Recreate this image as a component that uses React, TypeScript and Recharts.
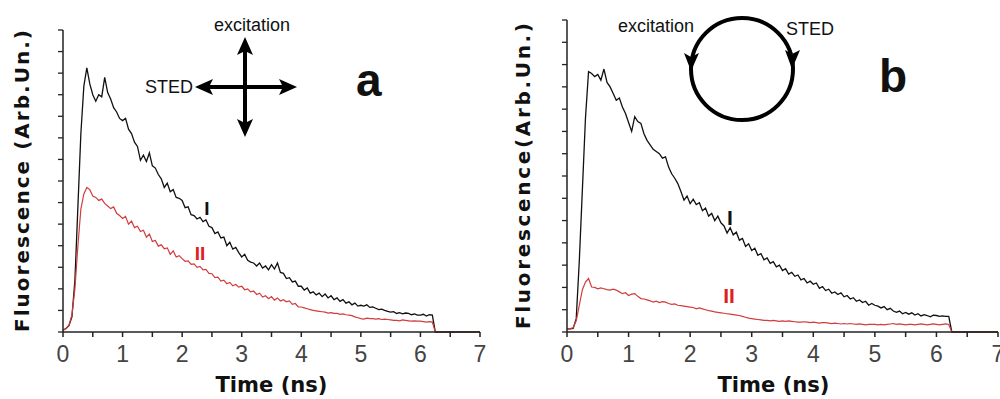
import React from 'react'
import { LineChart, Line, XAxis, YAxis } from 'recharts'

// sampling times (ns)
const TIME = [
  0, 0.05, 0.1, 0.15, 0.2, 0.25, 0.3, 0.35, 0.4, 0.45,
  0.5, 0.55, 0.6, 0.65, 0.7, 0.75, 0.8, 0.85, 0.9, 0.95,
  1.0, 1.05, 1.1, 1.15, 1.2, 1.25, 1.3, 1.35, 1.4, 1.45,
  1.5, 1.55, 1.6, 1.65, 1.7, 1.75, 1.8, 1.85, 1.9, 1.95,
  2.0, 2.05, 2.1, 2.15, 2.2, 2.25, 2.3, 2.35, 2.4, 2.45,
  2.5, 2.55, 2.6, 2.65, 2.7, 2.75, 2.8, 2.85, 2.9, 2.95,
  3.0, 3.05, 3.1, 3.15, 3.2, 3.25, 3.3, 3.35, 3.4, 3.45,
  3.5, 3.55, 3.6, 3.65, 3.7, 3.75, 3.8, 3.85, 3.9, 3.95,
  4.0, 4.05, 4.1, 4.15, 4.2, 4.25, 4.3, 4.35, 4.4, 4.45,
  4.5, 4.55, 4.6, 4.65, 4.7, 4.75, 4.8, 4.85, 4.9, 4.95,
  5.0, 5.05, 5.1, 5.15, 5.2, 5.25, 5.3, 5.35, 5.4, 5.45,
  5.5, 5.55, 5.6, 5.65, 5.7, 5.75, 5.8, 5.85, 5.9, 5.95,
  6.0, 6.05, 6.1, 6.15, 6.2, 6.25, 7.0,
]

// panel a, curve I (black)
const A_I = [
  0.04, 0.08, 0.15, 0.35, 1.2, 2.9, 4.6, 5.7, 6.12, 5.75,
  5.5, 5.35, 5.5, 5.45, 5.9, 5.55, 5.4, 5.2, 5.1, 4.95,
  4.9, 4.95, 4.7, 4.6, 4.4, 4.3, 3.98, 4.1, 3.95, 4.15,
  3.85, 3.8, 3.65, 3.55, 3.35, 3.45, 3.25, 3.3, 3.12, 3.1,
  3.05, 2.88, 2.9, 2.72, 2.7, 2.62, 2.66, 2.56, 2.6, 2.45,
  2.42, 2.28, 2.32, 2.18, 2.2, 2.0, 2.08, 1.92, 1.96, 1.84,
  1.74, 1.8, 1.66, 1.62, 1.6, 1.53, 1.6, 1.48, 1.53, 1.44,
  1.56, 1.46, 1.6, 1.38, 1.36, 1.24, 1.26, 1.16, 1.18, 1.06,
  1.06, 0.97, 1.02, 0.9, 0.93, 0.86, 0.9, 0.82, 0.88, 0.79,
  0.84, 0.75, 0.79, 0.71, 0.75, 0.67, 0.7, 0.63, 0.67, 0.6,
  0.62, 0.6, 0.63, 0.57, 0.58, 0.55, 0.52, 0.53, 0.5, 0.48,
  0.46, 0.47, 0.43, 0.45, 0.42, 0.44, 0.43, 0.4, 0.42, 0.39,
  0.39, 0.41, 0.37, 0.4, 0.39, 0, 0,
]

// panel a, curve II (red)
const A_II = [
  0.04, 0.08, 0.15, 0.4, 1.0, 2.0, 2.85, 3.2, 3.35, 3.3,
  3.15, 3.12, 3.05, 3.08, 2.98, 2.92, 2.86, 2.9, 2.75, 2.7,
  2.63, 2.68, 2.5, 2.57, 2.42, 2.45, 2.33, 2.36, 2.2, 2.27,
  2.1, 2.12, 1.99, 2.02, 1.93, 1.95, 1.8, 1.88, 1.74, 1.77,
  1.7, 1.64, 1.65, 1.57, 1.58, 1.5, 1.52, 1.44, 1.45, 1.36,
  1.35, 1.26, 1.27, 1.18, 1.2, 1.12, 1.15, 1.07, 1.1, 1.04,
  1.06, 0.98, 1.0, 0.93, 0.95, 0.87, 0.9, 0.81, 0.84, 0.77,
  0.82, 0.74, 0.79, 0.72, 0.75, 0.7, 0.72, 0.64, 0.66, 0.58,
  0.58, 0.56, 0.54, 0.52, 0.5, 0.49, 0.48, 0.47, 0.46, 0.44,
  0.45, 0.43, 0.43, 0.41, 0.42, 0.4, 0.39, 0.38, 0.35, 0.33,
  0.31, 0.3, 0.32, 0.31, 0.31, 0.3, 0.31, 0.29, 0.3, 0.29,
  0.28, 0.27, 0.27, 0.26, 0.28, 0.27, 0.26, 0.25, 0.26, 0.25,
  0.25, 0.24, 0.23, 0.24, 0.23, 0, 0,
]

// panel b, curve I (black)
const B_I = [
  0.07, 0.07, 0.08, 0.3, 1.6, 3.2, 4.8, 5.84, 5.8, 5.73,
  5.78, 5.65, 5.9, 5.6, 5.5, 5.35, 5.2, 5.25, 5.05, 4.9,
  4.7, 4.5, 4.83, 4.72, 4.68, 4.45, 4.3, 4.2, 4.1, 4.05,
  4.0, 3.9, 3.93, 3.7, 3.55, 3.45, 3.33, 3.15, 2.96, 3.05,
  2.88, 2.98, 2.86, 2.9, 2.72, 2.78, 2.6, 2.66, 2.5, 2.6,
  2.45, 2.38, 2.22, 2.34, 2.18, 2.24, 2.06, 2.1, 1.92, 1.98,
  1.83, 1.88, 1.72, 1.76, 1.62, 1.66, 1.54, 1.58, 1.46, 1.5,
  1.38, 1.42, 1.3, 1.34, 1.25, 1.28, 1.17, 1.2, 1.1, 1.14,
  1.07, 1.1, 0.98, 1.02, 0.93, 0.96, 0.87, 0.9, 0.84, 0.88,
  0.79, 0.82, 0.74, 0.77, 0.69, 0.72, 0.66, 0.69, 0.6, 0.64,
  0.6, 0.58, 0.54, 0.57, 0.5, 0.53, 0.47, 0.44, 0.47, 0.41,
  0.44, 0.4, 0.43, 0.38, 0.41, 0.36, 0.39, 0.37, 0.34, 0.38,
  0.37, 0.35, 0.36, 0.35, 0.35, 0, 0,
]

// panel b, curve II (red)
const B_II = [
  0.07, 0.07, 0.1, 0.25, 0.6, 0.95, 1.12, 1.2, 1.01, 1.0,
  0.97, 0.99, 0.97, 0.95, 0.94, 0.96, 0.94, 0.9, 0.86, 0.88,
  0.82, 0.85, 0.86, 0.8, 0.75, 0.74, 0.72, 0.7, 0.67, 0.69,
  0.66, 0.68, 0.67, 0.64, 0.62, 0.63, 0.6, 0.59, 0.58, 0.57,
  0.56, 0.55, 0.52, 0.54, 0.52, 0.5, 0.48, 0.47, 0.45, 0.44,
  0.43, 0.42, 0.41, 0.4, 0.39, 0.38, 0.37, 0.35, 0.33, 0.31,
  0.3, 0.29, 0.28, 0.27, 0.26, 0.26, 0.25, 0.26, 0.25, 0.24,
  0.25, 0.24, 0.25, 0.24, 0.23, 0.22, 0.22, 0.23, 0.22, 0.21,
  0.22, 0.21, 0.2, 0.21, 0.21, 0.2, 0.19, 0.2, 0.19, 0.18,
  0.19, 0.18, 0.19, 0.18, 0.17, 0.18, 0.17, 0.16, 0.17, 0.17,
  0.17, 0.16, 0.17, 0.16, 0.17, 0.18, 0.19, 0.17, 0.18, 0.17,
  0.16, 0.17, 0.17, 0.16, 0.17, 0.18, 0.17, 0.16, 0.17, 0.18,
  0.17, 0.16, 0.17, 0.18, 0.17, 0, 0,
]

const X_TICKS = [0, 0.5, 1, 1.5, 2, 2.5, 3, 3.5, 4, 4.5, 5, 5.5, 6, 6.5, 7]
const Y_TICKS = [0, 0.5, 1, 1.5, 2, 2.5, 3, 3.5, 4, 4.5, 5, 5.5, 6, 6.5, 7]

const FONT = '"Liberation Sans", Arial, sans-serif'
const WIDE = '"DejaVu Sans", Verdana, sans-serif'
const BLACK = '#111111'
const RED = '#d23c3c'
const AXIS = '#222222'

const toRows = (i: number[], ii: number[]) =>
  TIME.map((t, k) => ({ t, i: i[k], ii: ii[k] }))

type PanelProps = {
  left: number
  top: number
  right: number
  yWidth: number
  rows: { t: number; i: number; ii: number }[]
  yTitle: string
  yTitleX: number
  yTitleLen: number
  xTitleDx: number
}

function Panel({ left, top, right, yWidth, rows, yTitle, yTitleX, yTitleLen, xTitleDx }: PanelProps) {
  return (
    <div style={{ position: 'absolute', left, top: 0 }}>
      <LineChart
        width={500}
        height={399}
        data={rows}
        margin={{ top, right, bottom: 0, left: 0 }}
      >
        <XAxis
          dataKey="t"
          type="number"
          domain={[0, 7]}
          ticks={X_TICKS}
          interval={0}
          allowDataOverflow
          height={67}
          tickSize={5}
          tickMargin={9}
          tickFormatter={(v: number) => (Number.isInteger(v) ? String(v) : '')}
          tick={{ fill: '#444', fontSize: 23, fontFamily: FONT }}
          axisLine={{ stroke: AXIS, strokeWidth: 1.5 }}
          tickLine={{ stroke: AXIS, strokeWidth: 1.5 }}
          label={(p: any) => {
            const vb = p.viewBox
            return (
              <text
                x={vb.x + vb.width / 2 + xTitleDx}
                y={392}
                textAnchor="middle"
                fontFamily={WIDE}
                fontWeight="bold"
                fontSize={21}
                textLength={112}
                lengthAdjust="spacingAndGlyphs"
                fill="#111"
              >
                Time (ns)
              </text>
            )
          }}
        />
        <YAxis
          type="number"
          domain={[0, 7]}
          ticks={Y_TICKS}
          interval={0}
          width={yWidth}
          tick={() => <g />}
          tickSize={5}
          axisLine={{ stroke: AXIS, strokeWidth: 1.5 }}
          tickLine={{ stroke: AXIS, strokeWidth: 1.3 }}
          label={(p: any) => {
            const vb = p.viewBox
            const cy = vb.y + vb.height / 2
            return (
              <text
                x={yTitleX}
                y={cy}
                transform={`rotate(-90 ${yTitleX} ${cy})`}
                textAnchor="middle"
                dominantBaseline="central"
                fontFamily={WIDE}
                fontWeight="bold"
                fontSize={20}
                textLength={yTitleLen}
                lengthAdjust="spacing"
                fill="#111"
              >
                {yTitle}
              </text>
            )
          }}
        />
        <Line
          type="linear"
          dataKey="i"
          stroke={BLACK}
          strokeWidth={1.3}
          dot={false}
          isAnimationActive={false}
        />
        <Line
          type="linear"
          dataKey="ii"
          stroke={RED}
          strokeWidth={1.2}
          dot={false}
          isAnimationActive={false}
        />
      </LineChart>
    </div>
  )
}

function Annotations() {
  const t = { fontFamily: FONT, fill: '#111' }
  return (
    <svg
      width={1000}
      height={399}
      style={{ position: 'absolute', left: 0, top: 0, pointerEvents: 'none' }}
    >
      {/* panel a: crossed polarisations */}
      <text x={252} y={31} textAnchor="middle" fontSize={18} {...t}>excitation</text>
      <text x={193} y={93} textAnchor="end" fontSize={18} {...t}>STED</text>
      <line x1={245} y1={50} x2={245} y2={124} stroke="#000" strokeWidth={4} />
      <line x1={208} y1={87} x2={284} y2={87} stroke="#000" strokeWidth={4} />
      <polygon points="245,37 237,55 245,51 253,55" fill="#000" />
      <polygon points="245,137 237,119 245,123 253,119" fill="#000" />
      <polygon points="195,87 213,79 209,87 213,95" fill="#000" />
      <polygon points="297,87 279,79 283,87 279,95" fill="#000" />
      <text x={356} y={96} fontSize={46} fontWeight="bold" {...t}>a</text>
      <text x={207} y={215} textAnchor="middle" fontSize={19} fontWeight="bold" {...t}>I</text>
      <text x={200} y={260} textAnchor="middle" fontSize={19} fontWeight="bold" fontFamily={FONT} fill="#e02020">II</text>

      {/* panel b: circular polarisation */}
      <text x={656} y={32} textAnchor="middle" fontSize={18} {...t}>excitation</text>
      <text x={810} y={35} textAnchor="middle" fontSize={18} {...t}>STED</text>
      <circle cx={742} cy={69} r={51} fill="none" stroke="#000" strokeWidth={4} />
      <polygon points="691,71 684,53 691,57 699,53" fill="#000" />
      <polygon points="792,69 785,50 792,54 800,50" fill="#000" />
      <text x={879} y={92} fontSize={46} fontWeight="bold" {...t}>b</text>
      <text x={730} y={225} textAnchor="middle" fontSize={21} fontWeight="bold" {...t}>I</text>
      <text x={729} y={303} textAnchor="middle" fontSize={21} fontWeight="bold" fontFamily={FONT} fill="#e02020">II</text>
    </svg>
  )
}

export default function App() {
  return (
    <div style={{ position: 'absolute', left: 0, top: 0, width: 1000, height: 399, background: '#fff', overflow: 'hidden' }}>
      <Panel
        left={0}
        top={30}
        right={20}
        yWidth={63}
        rows={toRows(A_I, A_II)}
        yTitle="Fluorescence (Arb.Un.)"
        yTitleX={22}
        yTitleLen={302}
        xTitleDx={0}
      />
      <Panel
        left={500}
        top={20}
        right={2}
        yWidth={67}
        rows={toRows(B_I, B_II)}
        yTitle="Fluorescence(Arb.Un.)"
        yTitleX={23}
        yTitleLen={306}
        xTitleDx={-9}
      />
      <Annotations />
    </div>
  )
}
